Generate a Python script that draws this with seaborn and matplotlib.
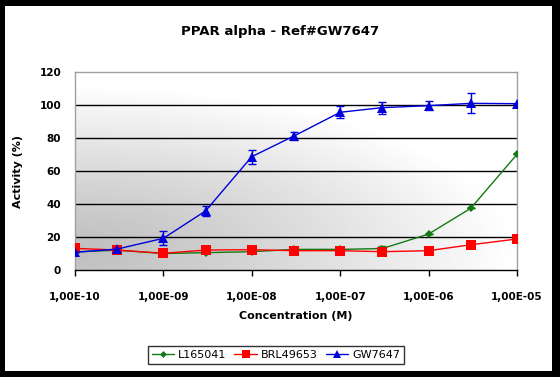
import numpy as np
import pandas as pd
import seaborn as sns
import matplotlib.pyplot as plt
from matplotlib.patches import Rectangle
from matplotlib.ticker import FixedLocator, NullLocator

# Data
conc = [1e-10, 3e-10, 1e-9, 3e-9, 1e-8, 3e-8, 1e-7, 3e-7, 1e-6, 3e-6, 1e-5]
l165041 = [11.0, 12.0, 10.0, 10.5, 11.1, 12.5, 12.5, 13.0, 21.8, 37.4, 70.1]
l165041_err = [0, 0, 0, 0, 0, 0, 0, 1.5, 0, 0, 0]
brl49653 = [13.1, 12.1, 10.1, 12.1, 12.3, 11.7, 11.7, 11.1, 11.7, 15.3, 18.8]
brl49653_err = [0, 0, 0, 0, 0, 0, 0, 0, 0, 1.5, 0]
gw7647 = [10.7, 12.7, 19.2, 35.8, 68.7, 81.2, 95.6, 98.4, 99.6, 101.0, 100.8]
gw7647_err = [0, 0, 4.2, 3.2, 4.3, 2.3, 3.5, 3.6, 2.9, 6.0, 0]

names = ['L165041', 'BRL49653', 'GW7647']
colors = {'L165041': '#137a13', 'BRL49653': '#ff0000', 'GW7647': '#0000dd'}
markers = {'L165041': 'D', 'BRL49653': 's', 'GW7647': '^'}
msizes = {'L165041': 4.5, 'BRL49653': 6.5, 'GW7647': 6.5}
tick_names = ['1,00E-10', '1,00E-09', '1,00E-08', '1,00E-07', '1,00E-06', '1,00E-05']

df = pd.DataFrame({
    'conc': conc * 3,
    'activity': l165041 + brl49653 + gw7647,
    'err': l165041_err + brl49653_err + gw7647_err,
    'compound': sum([[n] * len(conc) for n in names], []),
})

sns.set_style('white')
plt.rcParams['font.family'] = ['DejaVu Sans']
plt.rcParams['text.color'] = 'black'
plt.rcParams['axes.labelcolor'] = 'black'
plt.rcParams['xtick.color'] = 'black'
plt.rcParams['ytick.color'] = 'black'

fig = plt.figure(figsize=(5.6, 3.77), dpi=100, facecolor='black')
# white card inside the black frame
fig.patches.append(Rectangle((5 / 560, 6 / 377), 547 / 560, 365 / 377,
                             transform=fig.transFigure, facecolor='white',
                             edgecolor='none', zorder=-5))
ax = fig.add_axes([75 / 560, 107 / 377, 442 / 560, 198 / 377])
ax.set_zorder(2)

# gray gradient background of the plot area (darkest near the lower left)
gx, gy = np.meshgrid(np.linspace(0, 1, 200), np.linspace(0, 1, 200))
dist = np.sqrt(gx ** 2 + (1.2 * (gy - 0.1)) ** 2)
shade = 0.75 + 0.25 * np.clip(dist, 0, 1) ** 1.2
ax.imshow(shade, extent=[0, 1, 0, 1], origin='lower', cmap='gray', vmin=0, vmax=1,
          aspect='auto', transform=ax.transAxes, zorder=0, interpolation='bilinear')

for n in names:
    d = df[df['compound'] == n]
    ax.errorbar(d['conc'], d['activity'], yerr=d['err'], fmt='none',
                ecolor=colors[n], elinewidth=1, capsize=3, capthick=1, zorder=3)

sns.lineplot(data=df, x='conc', y='activity', hue='compound', style='compound',
             palette=colors, markers=markers, dashes=False, linewidth=1,
             markeredgewidth=0, ax=ax, legend=False, zorder=4)
for line, n in zip(ax.lines[-3:], names):
    line.set_markersize(msizes[n])

ax.set_xscale('log')
ax.set_xlim(1e-10, 1e-5)
ax.set_ylim(0, 120)
ax.set_yticks([0, 20, 40, 60, 80, 100, 120])
ax.xaxis.set_major_locator(FixedLocator([1e-10, 1e-9, 1e-8, 1e-7, 1e-6, 1e-5]))
ax.xaxis.set_minor_locator(NullLocator())
ax.set_xticklabels(tick_names)
ax.tick_params(axis='x', direction='out', length=4, width=1, color='black',
               labelsize=7.5, pad=12, bottom=True)
ax.tick_params(axis='y', length=0, labelsize=7.5, pad=10)
for lab in ax.get_xticklabels() + ax.get_yticklabels():
    lab.set_fontweight('bold')

for y in [20, 40, 60, 80, 100]:
    ax.axhline(y, color='black', linewidth=1, zorder=1)

for side in ['left', 'top', 'right']:
    ax.spines[side].set_color('#a0a0a0')
    ax.spines[side].set_linewidth(1)
ax.spines['bottom'].set_color('black')
ax.spines['bottom'].set_linewidth(1)

ax.set_xlabel('Concentration (M)', fontsize=8, fontweight='bold', labelpad=6)
ax.set_ylabel('Activity (%)', fontsize=8, fontweight='bold', labelpad=12)
fig.text(0.5, 1 - 32 / 377, 'PPAR alpha - Ref#GW7647', ha='center', va='center',
         fontsize=9.5, fontweight='bold')

handles = [plt.Line2D([], [], color=colors[n], marker=markers[n], markersize=msizes[n] - 1,
                      markeredgewidth=0, linewidth=1) for n in names]
leg = fig.legend(handles, names, loc='center', bbox_to_anchor=(276 / 560, 1 - 355 / 377),
                 ncol=3, frameon=True, fontsize=8, handlelength=2.0,
                 handletextpad=0.4, columnspacing=0.7, borderpad=0.35,
                 fancybox=False)
leg.get_frame().set_edgecolor('black')
leg.get_frame().set_linewidth(1)

fig.savefig('out.png', dpi=100, facecolor='black')
